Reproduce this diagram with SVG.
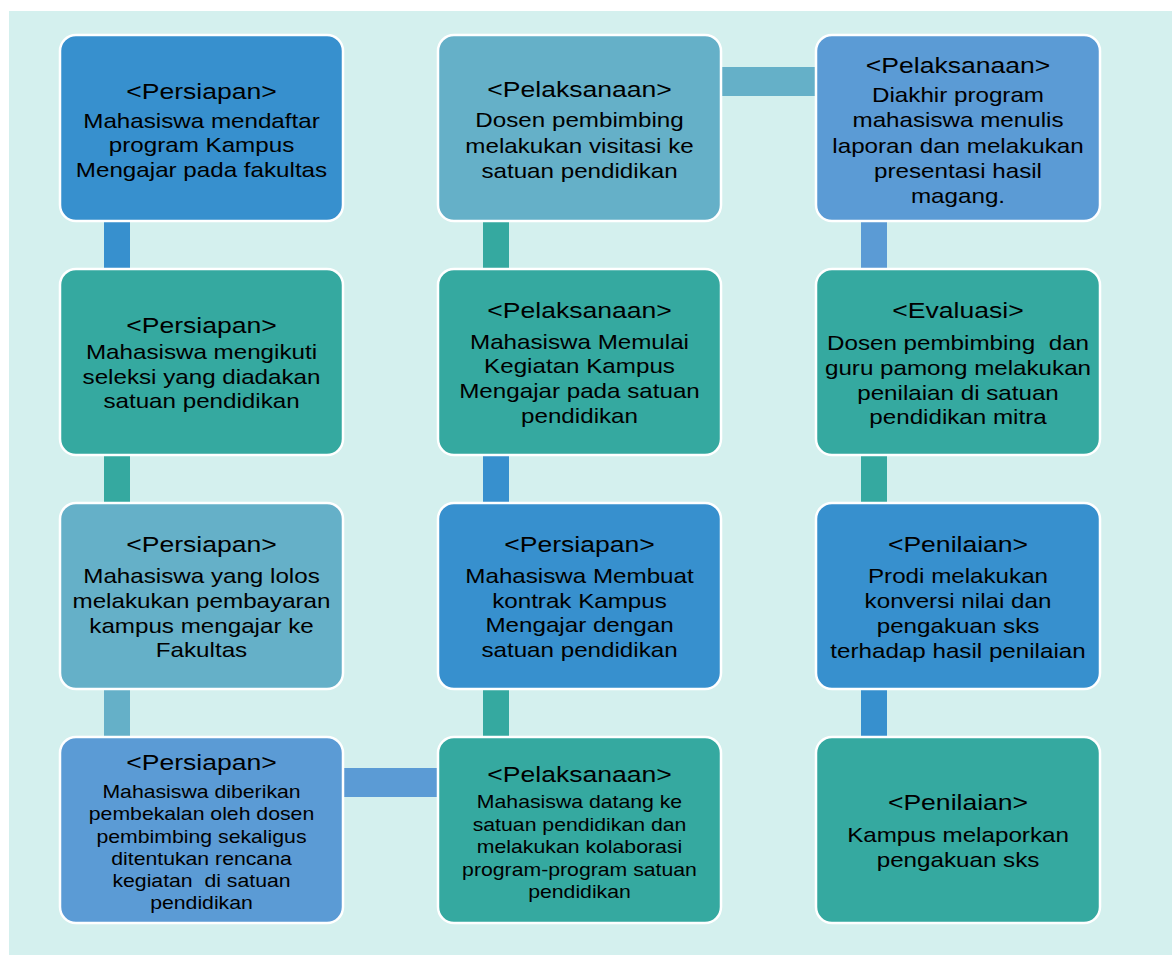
<svg xmlns="http://www.w3.org/2000/svg" width="1172" height="955" viewBox="0 0 1172 955">
<style>
.box{stroke:#ffffff;stroke-width:2.5}
.b1{fill:#3790CE}.b2{fill:#5B9BD5}.b3{fill:#65B0C8}.b4{fill:#35A9A0}
.t{font-family:"Liberation Sans",Arial,sans-serif;fill:#000000;text-anchor:middle}
.h{font-size:22.5px}.m{font-size:20.5px}.s{font-size:18px}
</style>
<rect x="0" y="0" width="1172" height="955" fill="#ffffff"/>
<rect x="9" y="11" width="1163" height="944" fill="#D4F0EE"/>
<g id="connectors">
<rect x="104" y="221" width="26" height="48" class="b1"/>
<rect x="104" y="455" width="26" height="48" class="b4"/>
<rect x="104" y="689" width="26" height="48" class="b3"/>
<rect x="343" y="768" width="95" height="29" class="b2"/>
<rect x="483" y="689" width="26" height="48" class="b4"/>
<rect x="483" y="455" width="26" height="48" class="b1"/>
<rect x="483" y="221" width="26" height="48" class="b4"/>
<rect x="721" y="67" width="95" height="29" class="b3"/>
<rect x="861" y="221" width="26" height="48" class="b2"/>
<rect x="861" y="455" width="26" height="48" class="b4"/>
<rect x="861" y="689" width="26" height="48" class="b1"/>
</g>
<g id="n1">
<rect x="60" y="35" width="283" height="186" rx="16" class="box b1"/>
<g transform="translate(201.5 0) scale(1.18 1)">
<text class="t h" x="0" y="99">&lt;Persiapan&gt;</text>
<text class="t m" x="0" y="128">Mahasiswa mendaftar</text>
<text class="t m" x="0" y="152.5">program Kampus</text>
<text class="t m" x="0" y="177">Mengajar pada fakultas</text>
</g>
</g>
<g id="n2">
<rect x="60" y="269" width="283" height="186" rx="16" class="box b4"/>
<g transform="translate(201.5 0) scale(1.18 1)">
<text class="t h" x="0" y="333">&lt;Persiapan&gt;</text>
<text class="t m" x="0" y="359">Mahasiswa mengikuti</text>
<text class="t m" x="0" y="384">seleksi yang diadakan</text>
<text class="t m" x="0" y="408">satuan pendidikan</text>
</g>
</g>
<g id="n3">
<rect x="60" y="503" width="283" height="186" rx="16" class="box b3"/>
<g transform="translate(201.5 0) scale(1.18 1)">
<text class="t h" x="0" y="552">&lt;Persiapan&gt;</text>
<text class="t m" x="0" y="583">Mahasiswa yang lolos</text>
<text class="t m" x="0" y="608">melakukan pembayaran</text>
<text class="t m" x="0" y="633">kampus mengajar ke</text>
<text class="t m" x="0" y="657">Fakultas</text>
</g>
</g>
<g id="n4">
<rect x="60" y="737" width="283" height="186" rx="16" class="box b2"/>
<g transform="translate(201.5 0) scale(1.18 1)">
<text class="t h" x="0" y="770">&lt;Persiapan&gt;</text>
<text class="t s" x="0" y="798">Mahasiswa diberikan</text>
<text class="t s" x="0" y="820">pembekalan oleh dosen</text>
<text class="t s" x="0" y="843">pembimbing sekaligus</text>
<text class="t s" x="0" y="865">ditentukan rencana</text>
<text class="t s" x="0" y="887">kegiatan&#160; di satuan</text>
<text class="t s" x="0" y="909">pendidikan</text>
</g>
</g>
<g id="n5">
<rect x="438" y="737" width="283" height="186" rx="16" class="box b4"/>
<g transform="translate(579.5 0) scale(1.18 1)">
<text class="t h" x="0" y="782">&lt;Pelaksanaan&gt;</text>
<text class="t s" x="0" y="808">Mahasiswa datang ke</text>
<text class="t s" x="0" y="831">satuan pendidikan dan</text>
<text class="t s" x="0" y="853">melakukan kolaborasi</text>
<text class="t s" x="0" y="876">program-program satuan</text>
<text class="t s" x="0" y="898">pendidikan</text>
</g>
</g>
<g id="n6">
<rect x="438" y="503" width="283" height="186" rx="16" class="box b1"/>
<g transform="translate(579.5 0) scale(1.18 1)">
<text class="t h" x="0" y="552">&lt;Persiapan&gt;</text>
<text class="t m" x="0" y="583">Mahasiswa Membuat</text>
<text class="t m" x="0" y="608">kontrak Kampus</text>
<text class="t m" x="0" y="632">Mengajar dengan</text>
<text class="t m" x="0" y="657">satuan pendidikan</text>
</g>
</g>
<g id="n7">
<rect x="438" y="269" width="283" height="186" rx="16" class="box b4"/>
<g transform="translate(579.5 0) scale(1.18 1)">
<text class="t h" x="0" y="318">&lt;Pelaksanaan&gt;</text>
<text class="t m" x="0" y="349">Mahasiswa Memulai</text>
<text class="t m" x="0" y="373.5">Kegiatan Kampus</text>
<text class="t m" x="0" y="398">Mengajar pada satuan</text>
<text class="t m" x="0" y="423">pendidikan</text>
</g>
</g>
<g id="n8">
<rect x="438" y="35" width="283" height="186" rx="16" class="box b3"/>
<g transform="translate(579.5 0) scale(1.18 1)">
<text class="t h" x="0" y="97">&lt;Pelaksanaan&gt;</text>
<text class="t m" x="0" y="127">Dosen pembimbing</text>
<text class="t m" x="0" y="153">melakukan visitasi ke</text>
<text class="t m" x="0" y="178">satuan pendidikan</text>
</g>
</g>
<g id="n9">
<rect x="816" y="35" width="284" height="186" rx="16" class="box b2"/>
<g transform="translate(958 0) scale(1.18 1)">
<text class="t h" x="0" y="73">&lt;Pelaksanaan&gt;</text>
<text class="t m" x="0" y="102">Diakhir program</text>
<text class="t m" x="0" y="127">mahasiswa menulis</text>
<text class="t m" x="0" y="153">laporan dan melakukan</text>
<text class="t m" x="0" y="178">presentasi hasil</text>
<text class="t m" x="0" y="203">magang.</text>
</g>
</g>
<g id="n10">
<rect x="816" y="269" width="284" height="186" rx="16" class="box b4"/>
<g transform="translate(958 0) scale(1.18 1)">
<text class="t h" x="0" y="318">&lt;Evaluasi&gt;</text>
<text class="t m" x="0" y="350">Dosen pembimbing&#160; dan</text>
<text class="t m" x="0" y="375">guru pamong melakukan</text>
<text class="t m" x="0" y="400">penilaian di satuan</text>
<text class="t m" x="0" y="424">pendidikan mitra</text>
</g>
</g>
<g id="n11">
<rect x="816" y="503" width="284" height="186" rx="16" class="box b1"/>
<g transform="translate(958 0) scale(1.18 1)">
<text class="t h" x="0" y="552">&lt;Penilaian&gt;</text>
<text class="t m" x="0" y="583">Prodi melakukan</text>
<text class="t m" x="0" y="608">konversi nilai dan</text>
<text class="t m" x="0" y="633">pengakuan sks</text>
<text class="t m" x="0" y="658">terhadap hasil penilaian</text>
</g>
</g>
<g id="n12">
<rect x="816" y="737" width="284" height="186" rx="16" class="box b4"/>
<g transform="translate(958 0) scale(1.18 1)">
<text class="t h" x="0" y="810">&lt;Penilaian&gt;</text>
<text class="t m" x="0" y="842">Kampus melaporkan</text>
<text class="t m" x="0" y="867">pengakuan sks</text>
</g>
</g>
</svg>
